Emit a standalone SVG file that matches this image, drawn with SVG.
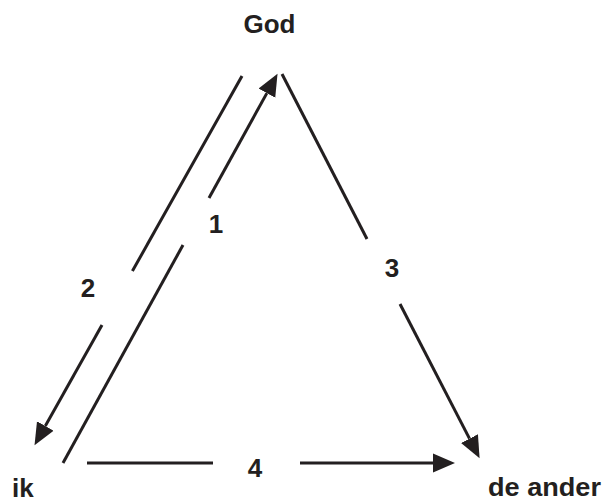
<svg xmlns="http://www.w3.org/2000/svg" width="607" height="503" viewBox="0 0 607 503">
<style>
.c{stroke:#231f20;stroke-width:3;fill:none}
text{font-family:"Liberation Sans",Arial,sans-serif;font-weight:bold;font-size:26px;fill:#231f20}
</style>
<defs>
<marker id="ah" markerUnits="userSpaceOnUse" markerWidth="24" markerHeight="22" viewBox="0 -11 24 22" refX="0" refY="0" orient="auto">
<path d="M0,-9.5 L22,0 L0,9.5 z" fill="#231f20"/>
</marker>
</defs>
<rect width="607" height="503" fill="#fff"/>
<g id="connectors">
<line class="c" x1="63" y1="463" x2="183" y2="245"/>
<line class="c" x1="209" y1="198" x2="266.9" y2="93.1" marker-end="url(#ah)"/>
<line class="c" x1="242" y1="76" x2="132.4" y2="271"/>
<line class="c" x1="102" y1="325" x2="45.3" y2="426" marker-end="url(#ah)"/>
<line class="c" x1="282" y1="74" x2="367" y2="239"/>
<line class="c" x1="400" y1="304" x2="469.5" y2="438.6" marker-end="url(#ah)"/>
<line class="c" x1="87" y1="463" x2="213" y2="463"/>
<line class="c" x1="300" y1="463" x2="433" y2="463" marker-end="url(#ah)"/>
<text x="216" y="233" text-anchor="middle">1</text>
<text x="88" y="297" text-anchor="middle">2</text>
<text x="392" y="277" text-anchor="middle">3</text>
<text x="255" y="477" text-anchor="middle">4</text>
</g>
<g id="god"><text x="269.5" y="33" text-anchor="middle">God</text></g>
<g id="ik"><text x="12" y="497">ik</text></g>
<g id="de-ander"><text x="488" y="496" textLength="113" lengthAdjust="spacingAndGlyphs">de ander</text></g>
</svg>
